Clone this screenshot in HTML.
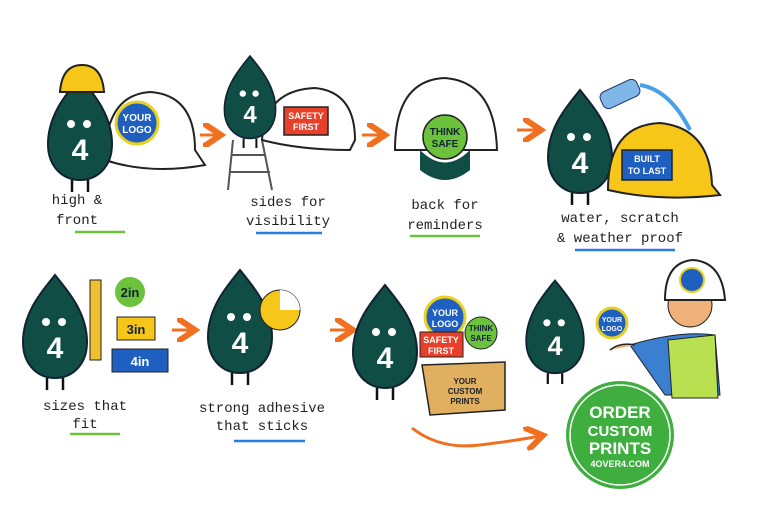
<!DOCTYPE html><html><head><style>body{margin:0;background:#fff}svg{display:block}
.l{font-family:"Liberation Mono",monospace;font-size:14px;fill:#222;text-anchor:middle}
.w{font-family:"Liberation Sans",sans-serif;font-weight:bold;text-anchor:middle}</style></head><body>
<svg width="760" height="506" viewBox="0 0 760 506">
<defs>
<g id="d"><path d="M0,-55 C12,-40 32,-18 32,12 C32,36 16,48 0,48 C-16,48 -32,36 -32,12 C-32,-18 -12,-40 0,-55Z" fill="#0f4d45" stroke="#123" stroke-width="2"/>
<circle cx="-9" cy="-8" r="4" fill="#fff"/><circle cx="7" cy="-8" r="4" fill="#fff"/>
<text x="0" y="28" class="w" font-size="30" fill="#fff">4</text>
<path d="M-8,48 v12 M8,48 v12" stroke="#111" stroke-width="2.5"/></g>
<marker id="a" markerWidth="8" markerHeight="8" refX="5" refY="4" orient="auto"><path d="M0,0 L6,4 L0,8" fill="none" stroke="#f07020" stroke-width="2"/></marker>
</defs>
<g stroke="#f07020" stroke-width="3" fill="none" marker-end="url(#a)">
<path d="M200,135 H218"/><path d="M362,135 H382"/><path d="M517,130 H538"/><path d="M172,330 H192"/><path d="M330,330 H350"/>
<path d="M412,428 Q440,450 480,445 T540,436"/></g>
<!-- P1 -->
<path d="M105,160 Q105,95 150,92 Q195,95 195,150 L205,165 Q150,175 105,160Z" fill="#fff" stroke="#222" stroke-width="2"/>
<use href="#d" transform="translate(80,132) scale(1,1)"/>
<path d="M60,92 Q62,65 82,65 Q102,65 104,92 Z" fill="#f6c619" stroke="#222" stroke-width="2"/>
<circle cx="137" cy="123" r="21" fill="#1f5fc0" stroke="#e8d020" stroke-width="3"/>
<text x="137" y="121" class="w" font-size="10" fill="#fff">YOUR</text><text x="137" y="133" class="w" font-size="10" fill="#fff">LOGO</text>
<!-- P2 -->
<path d="M233,140 L228,190 M262,140 L272,190 M232,155 H266 M230,172 H270" stroke="#555" stroke-width="2" fill="none"/>
<path d="M262,140 Q265,90 315,88 Q355,92 355,140 L350,150 Q300,150 262,140Z" fill="#fff" stroke="#222" stroke-width="2"/>
<use href="#d" transform="translate(250,100) scale(0.8)"/>
<rect x="284" y="107" width="44" height="28" fill="#e8402a" stroke="#222" stroke-width="1.5"/>
<text x="306" y="119" class="w" font-size="9" fill="#fff">SAFETY</text><text x="306" y="130" class="w" font-size="9" fill="#fff">FIRST</text>
<!-- P3 -->
<path d="M395,150 Q395,80 445,78 Q495,82 497,150 Z" fill="#fff" stroke="#222" stroke-width="2"/>
<path d="M420,150 Q445,175 470,150 L470,170 Q445,190 420,170Z" fill="#0f4d45"/>
<circle cx="445" cy="137" r="22" fill="#6cc23a" stroke="#222" stroke-width="1.5"/>
<text x="445" y="135" class="w" font-size="10" fill="#123">THINK</text><text x="445" y="147" class="w" font-size="10" fill="#123">SAFE</text>
<!-- P4 -->
<use href="#d" transform="translate(580,145)"/>
<path d="M608,190 Q608,125 660,123 Q710,128 712,185 L720,195 Q660,202 608,190Z" fill="#f6c619" stroke="#222" stroke-width="2"/>
<rect x="622" y="150" width="50" height="30" fill="#1f5fc0" stroke="#222" stroke-width="1.5"/>
<text x="647" y="162" class="w" font-size="9" fill="#fff">BUILT</text><text x="647" y="174" class="w" font-size="9" fill="#fff">TO LAST</text>
<rect x="600" y="85" width="40" height="18" rx="6" fill="#7fb8e8" stroke="#236" transform="rotate(-25 620 94)"/>
<path d="M640,85 Q670,90 690,130" stroke="#4aa0e8" stroke-width="4" fill="none"/>
<!-- labels row1 -->
<text x="77" y="204" class="l">high &amp;</text><text x="77" y="224" class="l">front</text><path d="M75,232 H125" stroke="#6cc23a" stroke-width="2.5"/>
<text x="288" y="206" class="l">sides for</text><text x="288" y="225" class="l">visibility</text><path d="M256,233 H322" stroke="#2a7de0" stroke-width="2.5"/>
<text x="445" y="209" class="l">back for</text><text x="445" y="229" class="l">reminders</text><path d="M410,236 H480" stroke="#6cc23a" stroke-width="2.5"/>
<text x="620" y="222" class="l">water, scratch</text><text x="620" y="242" class="l">&amp; weather proof</text><path d="M575,250 H675" stroke="#2a7de0" stroke-width="2.5"/>
<!-- row2 -->
<use href="#d" transform="translate(55,330)"/>
<rect x="90" y="280" width="11" height="80" fill="#f0c030" stroke="#222"/>
<circle cx="130" cy="292" r="15" fill="#6cc23a"/><text x="130" y="297" class="w" font-size="13" fill="#123">2in</text>
<rect x="117" y="317" width="38" height="23" fill="#f6c619" stroke="#222"/><text x="136" y="334" class="w" font-size="13" fill="#123">3in</text>
<rect x="112" y="349" width="56" height="23" fill="#1f5fc0" stroke="#222"/><text x="140" y="366" class="w" font-size="13" fill="#fff">4in</text>
<text x="85" y="410" class="l">sizes that</text><text x="85" y="428" class="l">fit</text><path d="M70,434 H120" stroke="#6cc23a" stroke-width="2.5"/>
<use href="#d" transform="translate(240,325)"/>
<circle cx="280" cy="310" r="20" fill="#f6c619" stroke="#222"/><path d="M280,290 A20,20 0 0 1 300,310 L280,310Z" fill="#fff"/>
<text x="262" y="412" class="l">strong adhesive</text><text x="262" y="430" class="l">that sticks</text><path d="M234,441 H305" stroke="#2a7de0" stroke-width="2.5"/>
<use href="#d" transform="translate(385,340)"/>
<path d="M422,365 L505,362 L505,410 L430,415Z" fill="#e0b060" stroke="#222" stroke-width="1.5"/>
<text x="465" y="384" class="w" font-size="8" fill="#222">YOUR</text><text x="465" y="394" class="w" font-size="8" fill="#222">CUSTOM</text><text x="465" y="404" class="w" font-size="8" fill="#222">PRINTS</text>
<circle cx="445" cy="317" r="20" fill="#1f5fc0" stroke="#e8d020" stroke-width="3"/>
<text x="445" y="316" class="w" font-size="9" fill="#fff">YOUR</text><text x="445" y="327" class="w" font-size="9" fill="#fff">LOGO</text>
<rect x="420" y="332" width="43" height="25" fill="#e8402a" stroke="#222"/>
<text x="441" y="343" class="w" font-size="9" fill="#fff">SAFETY</text><text x="441" y="354" class="w" font-size="9" fill="#fff">FIRST</text>
<circle cx="481" cy="333" r="16" fill="#6cc23a" stroke="#222"/>
<text x="481" y="331" class="w" font-size="8" fill="#123">THINK</text><text x="481" y="341" class="w" font-size="8" fill="#123">SAFE</text>
<use href="#d" transform="translate(555,330) scale(0.9)"/>
<circle cx="612" cy="323" r="15" fill="#1f5fc0" stroke="#e8d020" stroke-width="3"/>
<text x="612" y="322" class="w" font-size="7" fill="#fff">YOUR</text><text x="612" y="331" class="w" font-size="7" fill="#fff">LOGO</text>
<!-- worker -->
<path d="M630,345 Q680,330 715,335 L720,395 L665,395 Z" fill="#3a7fd0" stroke="#222"/>
<path d="M668,340 L715,335 L718,398 L672,398Z" fill="#b8e050" stroke="#222"/>
<circle cx="690" cy="305" r="22" fill="#f0b07a" stroke="#222"/>
<path d="M665,300 Q665,262 693,260 Q722,262 725,300Z" fill="#fff" stroke="#222" stroke-width="2"/>
<circle cx="692" cy="280" r="12" fill="#1f5fc0" stroke="#e8d020" stroke-width="2"/>
<path d="M610,350 Q620,342 635,345" stroke="#222" fill="#f0b07a" stroke-width="1.5"/>
<!-- order -->
<circle cx="620" cy="435" r="54" fill="#3eae3e"/><circle cx="620" cy="435" r="50" fill="none" stroke="#fff" stroke-width="1.5"/>
<text x="620" y="418" class="w" font-size="17" fill="#fff">ORDER</text><text x="620" y="436" class="w" font-size="15" fill="#fff">CUSTOM</text><text x="620" y="454" class="w" font-size="17" fill="#fff">PRINTS</text><text x="620" y="467" class="w" font-size="9" fill="#fff">4OVER4.COM</text>
</svg></body></html>
